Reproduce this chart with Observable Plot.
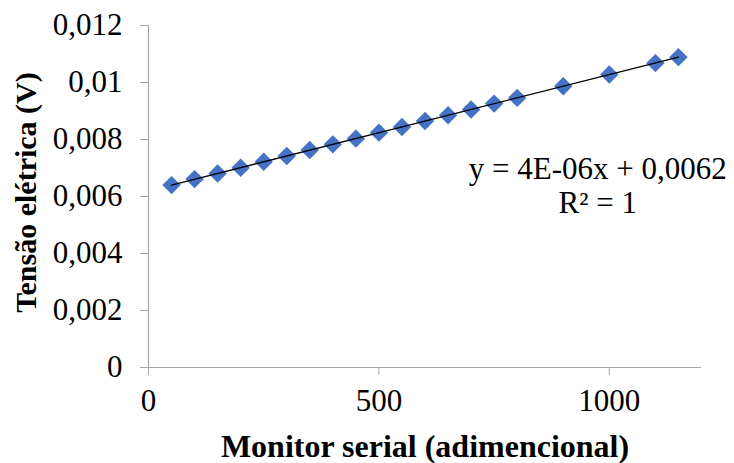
<!DOCTYPE html>
<html>
<head>
<meta charset="utf-8">
<script src="https://cdn.jsdelivr.net/npm/d3@7"></script>
<script src="https://cdn.jsdelivr.net/npm/@observablehq/plot@0.6"></script>
<style>
  html, body { margin: 0; padding: 0; background: #fff; }
</style>
</head>
<body>
<div id="chart"></div>
<script>
// Data
const monitorSerial = [50, 100, 150, 200, 250, 300, 350, 400, 450, 500, 550, 600, 650, 700, 750, 800, 900, 1000, 1100, 1150];
const tensao = [0.00640, 0.00661, 0.00681, 0.00701, 0.00722, 0.00742, 0.00763, 0.00783, 0.00803, 0.00824,
                0.00844, 0.00865, 0.00885, 0.00905, 0.00926, 0.00946, 0.00987, 0.01028, 0.01068, 0.01089];
const xTicks = [0, 500, 1000];
const xTickLabels = ["0", "500", "1000"];
const yTicks = [0, 0.002, 0.004, 0.006, 0.008, 0.010, 0.012];
const yTickLabels = ["0", "0,002", "0,004", "0,006", "0,008", "0,01", "0,012"];
const xTitle = "Monitor serial (adimencional)";
const yTitle = "Tensão elétrica (V)";
const equationText = "y = 4E-06x + 0,0062\nR² = 1";

const data = monitorSerial.map((x, i) => ({x, y: tensao[i]}));

const serif = "'Liberation Serif', 'Times New Roman', serif";
const axisGrey = "#a6a6a6";
const chart = Plot.plot({
  width: 734,
  height: 463,
  marginLeft: 148,
  marginRight: 33,
  marginTop: 25,
  marginBottom: 96,
  style: { fontFamily: serif, fontSize: "31px", background: "#fff", color: "#000" },
  x: { domain: [0, 1200] },
  y: { domain: [0, 0.012] },
  marks: [
    Plot.axisX({ ticks: xTicks, tickFormat: (d) => xTickLabels[xTicks.indexOf(d)], tickSize: 8, tickPadding: 13, stroke: axisGrey, fill: "#000", fontSize: 31, fontFamily: serif, label: null }),
    Plot.axisY({ ticks: yTicks, tickFormat: (d) => yTickLabels[yTicks.indexOf(d)], tickSize: 8, tickPadding: 18, stroke: axisGrey, fill: "#000", fontSize: 31, fontFamily: serif, label: null }),
    Plot.ruleX([0], { stroke: axisGrey, strokeWidth: 1.2 }),
    Plot.ruleY([0], { stroke: axisGrey, strokeWidth: 1.2 }),
    Plot.dot(data, { x: "x", y: "y", symbol: "diamond2", r: 8.3, fill: "#4472C4", stroke: "none" }),
    Plot.linearRegressionY(data, { x: "x", y: "y", ci: 0, stroke: "#000", strokeWidth: 1.3 }),
    Plot.text([equationText], { x: 975, y: 0.00639, text: (d) => d, textAnchor: "middle", lineAnchor: "middle", lineHeight: 1.07, fontSize: 31, fontFamily: serif, fill: "#000" }),
    Plot.text([xTitle], { frameAnchor: "bottom", dy: 79, textAnchor: "middle", lineAnchor: "middle", fontWeight: "bold", fontSize: 32, fontFamily: serif, fill: "#000" }),
    Plot.text([yTitle], { frameAnchor: "left", dx: -122, dy: -4, rotate: -90, textAnchor: "middle", lineAnchor: "middle", fontWeight: "bold", fontSize: 30, fontFamily: serif, fill: "#000" })
  ]
});
document.getElementById("chart").appendChild(chart);
</script>
</body>
</html>
